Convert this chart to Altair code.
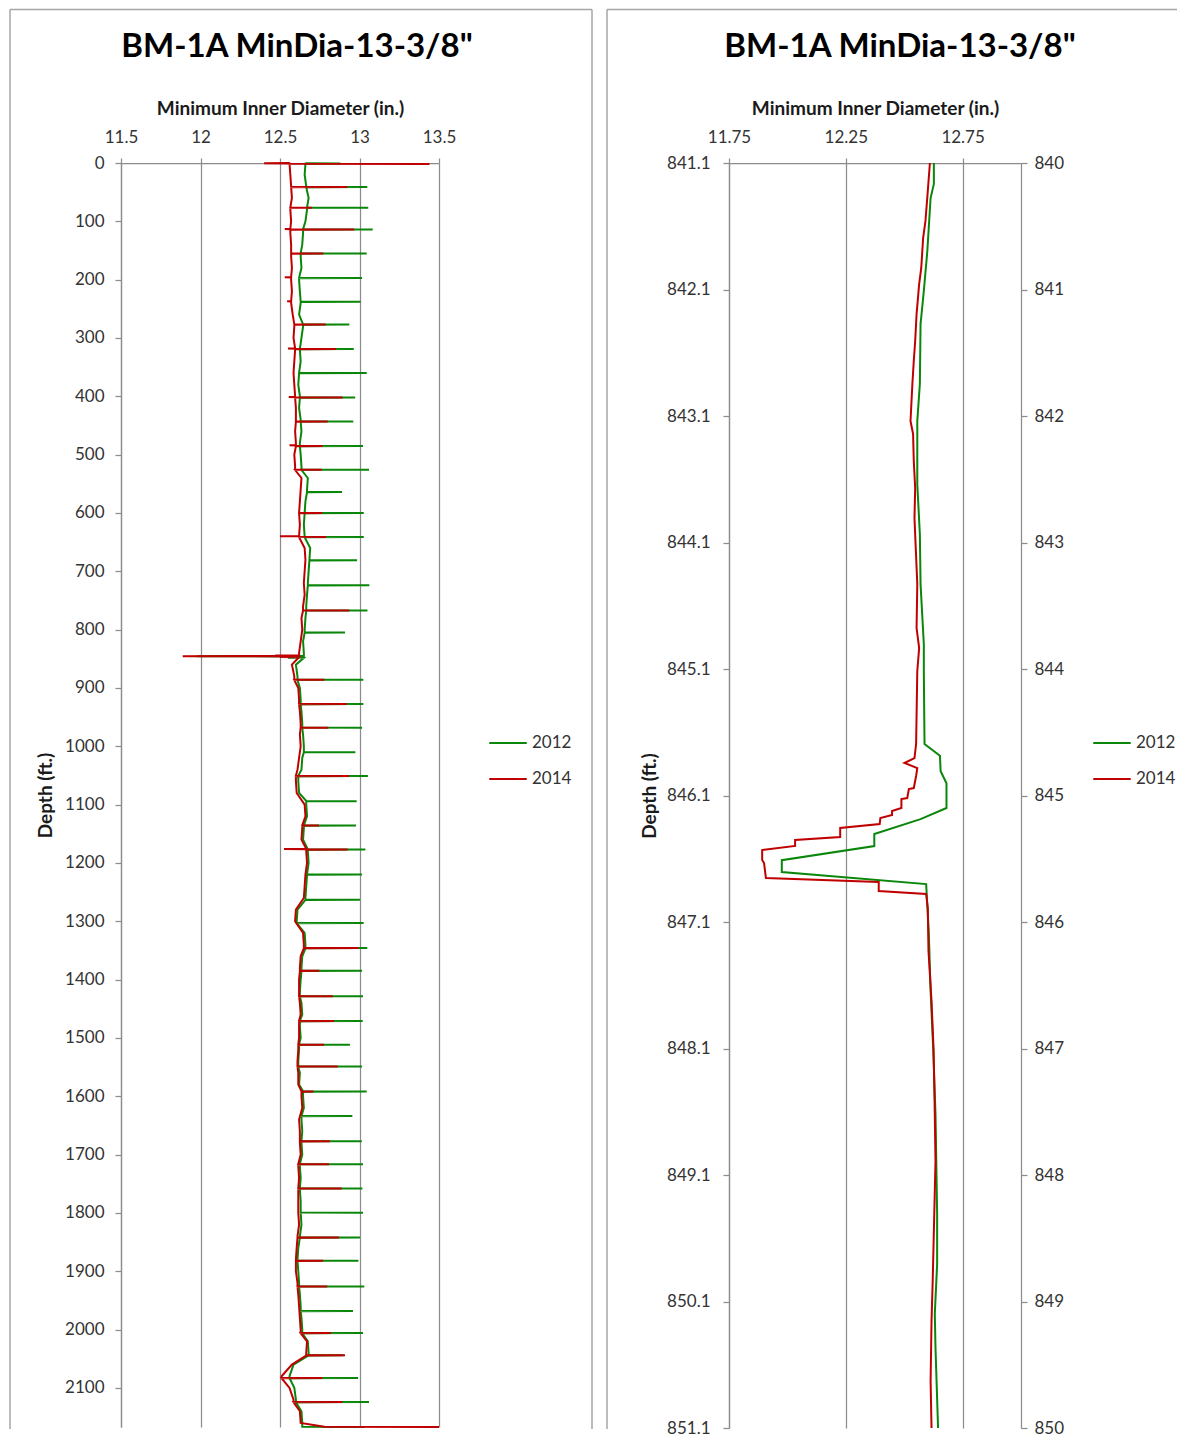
import altair as alt
import pandas as pd

FONT = "Lato"
GREEN = "#0a870a"
RED = "#c00000"
AXIS_GRAY = "#8c8c8c"
BORDER_GRAY = "#a6a6a6"
TEXT = "#333333"
TITLE = 'BM-1A MinDia-13-3/8"'
SERIES = ["2012", "2014"]

# ---------------- left panel: whole string (depth 0 - 2167 ft) ----------------
DEPTH_STEP = 20
LEFT_DEPTH_MAX = 2167
G_BASE = [
    12.66, 12.655, 12.665, 12.68, 12.67, 12.66, 12.645, 12.64, 12.63, 12.635,
    12.62, 12.625, 12.63, 12.62, 12.645, 12.635, 12.625, 12.63, 12.62, 12.615,
    12.625, 12.62, 12.63, 12.635, 12.625, 12.63, 12.635, 12.675, 12.67, 12.66,
    12.655, 12.65, 12.655, 12.69, 12.685, 12.68, 12.675, 12.67, 12.665, 12.66,
    12.655, 12.645, 12.65, 12.60, 12.61, 12.625, 12.63, 12.635, 12.64, 12.645,
    12.65, 12.64, 12.635, 12.615, 12.62, 12.665, 12.67, 12.65, 12.645, 12.675,
    12.68, 12.67, 12.665, 12.66, 12.61, 12.605, 12.655, 12.66, 12.64, 12.635,
    12.63, 12.625, 12.635, 12.64, 12.625, 12.63, 12.62, 12.615, 12.625, 12.62,
    12.645, 12.65, 12.635, 12.64, 12.635, 12.64, 12.625, 12.63, 12.625, 12.63,
    12.63, 12.635, 12.625, 12.615, 12.61, 12.615, 12.62, 12.625, 12.63, 12.635,
    12.64, 12.675, 12.68, 12.585, 12.56, 12.59, 12.60, 12.635, 12.64,
]
R_BASE = [
    12.56, 12.565, 12.57, 12.575, 12.565, 12.57, 12.565, 12.57, 12.57, 12.575,
    12.57, 12.575, 12.57, 12.58, 12.59, 12.585, 12.595, 12.59, 12.585, 12.59,
    12.595, 12.60, 12.60, 12.595, 12.60, 12.59, 12.595, 12.635, 12.63, 12.625,
    12.62, 12.625, 12.62, 12.655, 12.66, 12.655, 12.65, 12.655, 12.645, 12.635,
    12.64, 12.63, 12.62, 12.575, 12.59, 12.615, 12.62, 12.625, 12.63, 12.625,
    12.63, 12.62, 12.61, 12.60, 12.605, 12.655, 12.66, 12.64, 12.635, 12.665,
    12.67, 12.66, 12.655, 12.65, 12.60, 12.595, 12.645, 12.65, 12.63, 12.625,
    12.62, 12.62, 12.625, 12.63, 12.62, 12.62, 12.615, 12.61, 12.615, 12.615,
    12.635, 12.64, 12.62, 12.625, 12.625, 12.63, 12.615, 12.62, 12.615, 12.615,
    12.615, 12.62, 12.61, 12.605, 12.60, 12.60, 12.61, 12.615, 12.62, 12.625,
    12.63, 12.67, 12.665, 12.575, 12.51, 12.56, 12.585, 12.625, 12.63,
]
G_SPIKE_DEPTH = [
    1, 41, 76.6, 114, 155, 197, 238, 277, 319, 360,
    402, 443, 485, 526, 564, 600, 641, 681, 724, 767,
    805, 845.5, 848, 886, 927.5, 968, 1010, 1051, 1094, 1136, 1177,
    1220, 1263, 1303, 1346, 1385, 1428.5, 1471, 1511.5, 1549, 1592,
    1634, 1677, 1716.5, 1758, 1799.5, 1842, 1882, 1926, 1968, 2006,
    2044, 2083, 2124,
]
G_SPIKE_VALUE = [
    12.88, 13.049, 13.055, 13.083, 13.045, 13.016, 13.007, 12.936, 12.964, 13.045,
    12.973, 12.961, 13.022, 13.06, 12.89, 13.027, 13.027, 12.985, 13.062, 13.05,
    12.909, 11.976, 12.55, 13.024, 13.024, 13.016, 12.974, 13.053, 12.982, 12.978, 13.037,
    13.016, 13.003, 13.026, 13.049, 13.016, 13.022, 13.02, 12.94, 13.016, 13.045,
    12.955, 13.014, 13.022, 13.018, 13.022, 13.003, 12.993, 13.03, 12.959, 13.022,
    12.90, 12.991, 13.06,
]
R_SPIKE_DEPTH = [
    0.5, 1.5, 41, 76.6, 113, 114, 155, 196, 237, 277,
    318, 319, 401, 402, 443, 484, 485, 526, 600, 640,
    641, 767, 844.5, 845.5, 847, 886, 927.5, 968, 1051, 1136,
    1176, 1177, 1346, 1385, 1428.5, 1471, 1511.5, 1549, 1592, 1677,
    1716.5, 1758, 1842, 1882, 1926, 2006, 2044, 2083, 2124,
]
R_SPIKE_VALUE = [
    12.40, 13.44, 12.923, 12.70, 12.53, 12.967, 12.772, 12.53, 12.545, 12.787,
    12.55, 12.852, 12.555, 12.894, 12.80, 12.56, 12.768, 12.762, 12.766, 12.50,
    12.79, 12.936, 12.47, 11.888, 12.50, 12.779, 12.92, 12.804, 12.934, 12.745,
    12.525, 12.926, 12.993, 12.747, 12.832, 12.84, 12.777, 12.863, 12.71, 12.814,
    12.808, 12.888, 12.871, 12.772, 12.797, 12.821, 12.909, 12.766, 12.892,
]
G_TAIL_DEPTH = [2166.6, 2167]
G_TAIL_VALUE = [12.64, 13.03]
R_TAIL_DEPTH = [2166.5, 2167]
R_TAIL_VALUE = [12.78, 13.50]

# ---------------- right panel: close-up of the restriction ----------------
G12_DEPTH = [841.100, 841.266, 841.377, 841.796, 842.112, 842.373, 842.847, 843.140,
             843.638, 844.033, 844.429, 844.902, 845.116, 845.693, 845.785, 845.908,
             846.003, 846.199, 846.287, 846.405, 846.500, 846.611, 846.705, 846.800,
             847.171, 847.645, 848.096, 848.618, 849.408, 849.803, 850.199, 850.468,
             851.100]
G12_VALUE = [12.627, 12.627, 12.613, 12.599, 12.584, 12.570, 12.567, 12.556,
             12.556, 12.567, 12.570, 12.584, 12.584, 12.587, 12.653, 12.656,
             12.681, 12.681, 12.570, 12.372, 12.372, 11.976, 11.976, 12.594,
             12.605, 12.613, 12.624, 12.634, 12.641, 12.641, 12.631, 12.634,
             12.645]
R14_DEPTH = [840.000, 840.221, 840.458, 840.593, 840.830, 840.957, 841.194, 841.407,
             841.565, 841.747, 842.040, 842.142, 842.356, 842.569, 842.806, 843.067,
             843.328, 843.676, 843.834, 844.016, 844.593, 844.704, 844.743, 844.783,
             844.846, 844.941, 844.949, 845.020, 845.028, 845.099, 845.123, 845.154,
             845.178, 845.225, 845.257, 845.328, 845.352, 845.399, 845.431, 845.510,
             845.534, 845.652, 845.684, 845.755, 845.779, 845.889, 846.229, 846.625,
             847.020, 847.415, 847.889, 848.206, 848.522, 848.838, 849.154, 849.628,
             850.000]
R14_VALUE = [12.610, 12.601, 12.591, 12.581, 12.573, 12.564, 12.553, 12.547,
             12.541, 12.535, 12.527, 12.538, 12.541, 12.547, 12.544, 12.550,
             12.556, 12.553, 12.564, 12.556, 12.551, 12.544, 12.501, 12.556,
             12.551, 12.541, 12.520, 12.513, 12.488, 12.488, 12.448, 12.448,
             12.398, 12.395, 12.226, 12.226, 12.033, 12.033, 11.892, 11.892,
             11.900, 11.908, 12.391, 12.391, 12.594, 12.601, 12.604, 12.617,
             12.626, 12.630, 12.634, 12.630, 12.626, 12.622, 12.617, 12.613,
             12.617]

LEFT_X_TICKS = [11.5, 12, 12.5, 13, 13.5]
LEFT_Y_TICKS = [0, 100, 200, 300, 400, 500, 600, 700, 800, 900, 1000, 1100,
                1200, 1300, 1400, 1500, 1600, 1700, 1800, 1900, 2000, 2100]
RIGHT_X_TICKS = [11.75, 12.25, 12.75]
RIGHT_Y1_TICKS = [841.1, 842.1, 843.1, 844.1, 845.1, 846.1, 847.1, 848.1, 849.1, 850.1, 851.1]
RIGHT_Y2_TICKS = [840, 841, 842, 843, 844, 845, 846, 847, 848, 849, 850]


def log_table(base, spike_d, spike_v, tail_d, tail_v, label):
    pts = [(i * DEPTH_STEP, v) for i, v in enumerate(base)]
    for d, v in zip(spike_d, spike_v):
        nearest = base[min(range(len(base)), key=lambda i: abs(i * DEPTH_STEP - d))]
        pts += [(d - 0.4, nearest), (d, v), (d + 0.4, nearest)]
    pts += list(zip(tail_d, tail_v))
    pts.sort()
    return pd.DataFrame({"depth": [p[0] for p in pts], "value": [p[1] for p in pts],
                         "series": label, "idx": list(range(len(pts)))})


def plain_table(depths, values, label):
    return pd.DataFrame({"depth": depths, "value": values, "series": label,
                         "idx": list(range(len(depths)))})


left_g = log_table(G_BASE, G_SPIKE_DEPTH, G_SPIKE_VALUE, G_TAIL_DEPTH, G_TAIL_VALUE, "2012")
left_r = log_table(R_BASE, R_SPIKE_DEPTH, R_SPIKE_VALUE, R_TAIL_DEPTH, R_TAIL_VALUE, "2014")
right_g = plain_table(G12_DEPTH, G12_VALUE, "2012")
right_r = plain_table(R14_DEPTH, R14_VALUE, "2014")


def color_enc(lx, ly):
    return alt.Color(
        "series:N",
        scale=alt.Scale(domain=SERIES, range=[GREEN, RED]),
        legend=alt.Legend(title=None, orient="none", legendX=lx, legendY=ly,
                          symbolType="stroke", symbolSize=1400, symbolStrokeWidth=2,
                          labelFont=FONT, labelFontSize=17, labelColor=TEXT,
                          labelOffset=4, rowPadding=8, padding=0),
    )


def decorations(left, right, top, bottom, title_x, draw_right):
    one = alt.Chart(pd.DataFrame({"k": [0]}))
    parts = [
        one.mark_rule(color=BORDER_GRAY, strokeWidth=1.5).encode(
            x=alt.value(left), y=alt.value(top), y2=alt.value(bottom)),
        one.mark_rule(color=BORDER_GRAY, strokeWidth=1.5).encode(
            x=alt.value(left), x2=alt.value(right), y=alt.value(top)),
    ]
    if draw_right:
        parts.append(one.mark_rule(color=BORDER_GRAY, strokeWidth=1.5).encode(
            x=alt.value(right), y=alt.value(top), y2=alt.value(bottom)))
    parts.append(one.mark_text(font=FONT, fontSize=33, fontWeight="bold", align="center",
                               baseline="alphabetic", color="black").encode(
        x=alt.value(title_x), y=alt.value(-106), text=alt.value(TITLE)))
    return parts


# ---- left panel ----
lx = alt.X("value:Q", scale=alt.Scale(domain=[11.5, 13.5], nice=False, zero=False),
           axis=alt.Axis(orient="top", values=LEFT_X_TICKS, format="~g",
                         title="Minimum Inner Diameter (in.)", grid=True, tickSize=5,
                         labelPadding=12, titlePadding=10, labelFlush=False))
ly = alt.Y("depth:Q", scale=alt.Scale(domain=[0, LEFT_DEPTH_MAX], reverse=True, nice=False, zero=False),
           axis=alt.Axis(values=LEFT_Y_TICKS, format="d", title="Depth (ft.)", grid=False,
                         tickSize=6, labelPadding=11, titlePadding=9, labelFlush=False))
lcolor = color_enc(367, 560)

left_lines = [
    alt.Chart(df).mark_line(strokeWidth=2).encode(
        x=lx, y=ly, color=lcolor, order=alt.Order("idx:Q"))
    for df in (left_g, left_r)
]
left = alt.layer(*decorations(-111, 471, -153.5, 1266, 176, True), *left_lines).properties(
    width=318, height=1264)

# ---- right panel ----
rx = alt.X("value:Q", scale=alt.Scale(domain=[11.75, 13.0], nice=False, zero=False),
           axis=alt.Axis(orient="top", values=RIGHT_X_TICKS, format=".2f",
                         title="Minimum Inner Diameter (in.)", grid=True, tickSize=5,
                         labelPadding=12, titlePadding=10, labelFlush=False))
ry1 = alt.Y("depth:Q", scale=alt.Scale(domain=[841.1, 851.1], reverse=True, nice=False, zero=False),
            axis=alt.Axis(orient="left", values=RIGHT_Y1_TICKS, format=".1f", title="Depth (ft.)",
                          grid=False, tickSize=6, labelPadding=13, titlePadding=7, labelFlush=False))
ry2 = alt.Y("depth:Q", scale=alt.Scale(domain=[840, 850], reverse=True, nice=False, zero=False),
            axis=alt.Axis(orient="right", values=RIGHT_Y2_TICKS, format="d", title="",
                          grid=False, tickSize=6, labelPadding=7, labelFlush=False))
rcolor = color_enc(363, 560)

right_lines = [
    alt.Chart(right_g).mark_line(strokeWidth=2).encode(
        x=rx, y=ry1, color=rcolor, order=alt.Order("idx:Q")),
    alt.Chart(right_r).mark_line(strokeWidth=2).encode(
        x=rx, y=ry2, color=rcolor, order=alt.Order("idx:Q")),
]
right = alt.layer(*decorations(-122, 448, -153.5, 1266, 171, False), *right_lines).resolve_scale(
    y="independent").properties(width=292, height=1265)

chart = (
    alt.hconcat(left, right, spacing=11)
    .resolve_scale(color="independent")
    .properties(padding=0)
    .configure_view(stroke="transparent")
    .configure_axis(
        domainColor=AXIS_GRAY, domainWidth=1.25, tickColor=AXIS_GRAY, tickWidth=1.25,
        gridColor=AXIS_GRAY, gridWidth=1.25, gridOpacity=1,
        labelFont=FONT, labelFontSize=17, labelColor=TEXT,
        titleFont=FONT, titleFontSize=19, titleFontWeight="bold", titleColor="#1a1a1a",
    )
)

chart.save("out.html", embed_options={"renderer": "svg", "actions": False})
